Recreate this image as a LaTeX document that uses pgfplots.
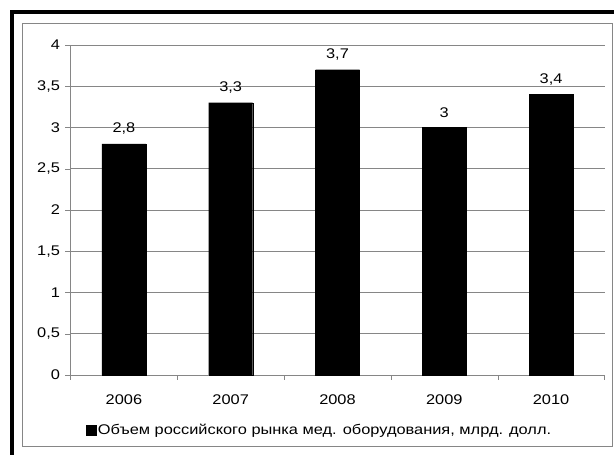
\documentclass[border=0pt]{standalone}
\usepackage{pgfplots}
\pgfplotsset{compat=1.18}
\usepackage{fontspec}
\setmainfont[FakeStretch=1.17]{Liberation Sans}
\definecolor{gridgray}{HTML}{868686}
\newcommand{\lblfont}{\fontsize{14}{16}\selectfont}
\begin{document}
\begin{tikzpicture}[x=1pt,y=1pt]
\useasboundingbox (0,0) rectangle (614,455);
\clip (0,0) rectangle (614,455);
\fill[white] (0,0) rectangle (614,455);
\draw[line width=4pt] (12,-20) -- (12,443) -- (640,443);
\draw[gridgray, line width=1pt] (22,8) rectangle (612,431);
\begin{axis}[
  at={(70.5pt,80pt)}, anchor=south west,
  scale only axis, width=534pt, height=330pt,
  xmin=-0.5, xmax=4.5, ymin=0, ymax=4,
  ybar, bar width=44pt,
  axis x line*=bottom, axis y line*=left,
  axis line style={gridgray},
  xtick={0,1,2,3,4},
  xticklabels={2006,2007,2008,2009,2010},
  minor xtick={-0.5,0.5,1.5,2.5,3.5,4.5},
  major x tick style={draw=none},
  minor x tick style={gridgray},
  minor tick length=5pt,
  ytick={0,0.5,...,4},
  major tick length=5pt,
  tick align=outside,
  y tick style={gridgray},
  ymajorgrids, grid style={gridgray, line width=0.8pt},
  /pgf/number format/assume math mode=true,
  /pgf/number format/use comma,
  yticklabel style={font=\lblfont, xshift=-2pt},
  xticklabel style={font=\lblfont, yshift=-11pt},
  nodes near coords,
  every node near coord/.append style={font=\lblfont, black, yshift=6pt},
  clip=false,
  legend style={draw=none, fill=none, at={(0.466,-0.167)}, anchor=center,
    font=\lblfont, inner sep=0pt},
  legend image code/.code={\fill[black] (0pt,-5pt) rectangle (10pt,5pt);},
  legend cell align=left,
]
\addplot[fill=black, draw=black] coordinates {(0,2.8) (1,3.3) (2,3.7) (3,3.0) (4,3.4)};
\addlegendentry{Объем российского рынка мед. оборудования, млрд. долл.}
\end{axis}
\end{tikzpicture}
\end{document}
